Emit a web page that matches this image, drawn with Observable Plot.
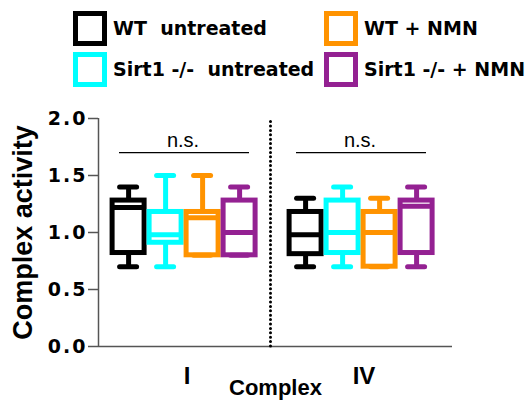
<!DOCTYPE html>
<html><head><meta charset="utf-8">
<script src="https://cdn.jsdelivr.net/npm/d3@7"></script>
<script src="https://cdn.jsdelivr.net/npm/@observablehq/plot@0.6"></script>
<style>
body{margin:0;background:#fff;width:527px;height:400px;overflow:hidden}
#chart svg{display:block}
.legend text{font-family:"DejaVu Sans",sans-serif;font-weight:bold;font-size:19px;white-space:pre}
[aria-label="y-axis tick label"] text{letter-spacing:2px}
[aria-label="y-axis tick"] path{stroke:#555;stroke-width:1.5}
[aria-label="fx-axis label"] text{font-size:22px}
</style></head><body><div id="chart"></div>
<script>
const complexes = ["I", "IV"];
const groups = ["WT  untreated", "Sirt1 -/-  untreated", "WT + NMN", "Sirt1 -/- + NMN"];
const groupColors = ["#000000", "#00ffff", "#ff9300", "#942192"];

// Complex I (per group, in groups order)
const minI = [0.70, 0.70, 0.80, 0.80];
const q1I  = [0.82, 0.91, 0.80, 0.80];
const medI = [1.22, 0.98, 1.13, 1.00];
const q3I  = [1.28, 1.18, 1.18, 1.28];
const maxI = [1.40, 1.50, 1.50, 1.40];
// Complex IV
const minIV = [0.70, 0.70, 0.70, 0.70];
const q1IV  = [0.81, 0.82, 0.70, 0.82];
const medIV = [0.98, 1.00, 1.00, 1.23];
const q3IV  = [1.18, 1.28, 1.18, 1.28];
const maxIV = [1.30, 1.40, 1.30, 1.40];

const yTicks = [0, 0.5, 1.0, 1.5, 2.0];
const nsLabel = "n.s.";
const nsLevel = 1.7;
const yLabel = "Complex activity";
const xLabel = "Complex";

const series = {
  I: {min: minI, q1: q1I, med: medI, q3: q3I, max: maxI},
  IV: {min: minIV, q1: q1IV, med: medIV, q3: q3IV, max: maxIV}
};
const stats = [];
complexes.forEach(c => groups.forEach((g, i) => {
  const s = series[c];
  stats.push({complex: c, group: g, min: s.min[i], q1: s.q1[i], med: s.med[i], q3: s.q3[i], max: s.max[i]});
}));

// legend
const legend = d3.create("svg").attr("class", "legend").attr("width", 527).attr("height", 95);
const colX = [73, 324], rowY = [11, 52];
groups.forEach((g, i) => {
  const lx = colX[Math.floor(i / 2)], ly = rowY[i % 2];
  legend.append("rect").attr("x", lx + 2.5).attr("y", ly + 2.5).attr("width", 29).attr("height", 30)
    .attr("fill", "none").attr("stroke", groupColors[i]).attr("stroke-width", 5);
  legend.append("text").attr("x", lx + 40).attr("y", ly + 24).text(g);
});
document.getElementById("chart").append(legend.node());

const step = 37, facetW = 177, pOuter = (facetW / step - 4) / 2, align = 0.4;
const firstCenter = (facetW - 4 * step) * align + step / 2;

const plot = Plot.plot({
  width: 527, height: 305,
  marginLeft: 98, marginRight: 75, marginTop: 23, marginBottom: 54,
  fx: {domain: complexes, padding: 0, round: false},
  x: {domain: groups, paddingInner: 0, paddingOuter: pOuter, align, round: false, axis: null},
  y: {domain: [0, 2]},
  color: {domain: groups, range: groupColors},
  style: {background: "white", overflow: "visible"},
  marks: [
    Plot.ruleY([0], {stroke: "#555", strokeWidth: 1.5}),
    Plot.ruleX([groups[0]], {x: d => d, fx: () => complexes[0], y1: () => 0, y2: () => 2, dx: -firstCenter, stroke: "#555", strokeWidth: 1.5}),
    Plot.ruleX([groups[0]], {x: d => d, fx: () => complexes[1], y1: () => 0, y2: () => 2, dx: -firstCenter - 5, stroke: "black", strokeWidth: 3, strokeDasharray: "0,4.4", strokeLinecap: "round"}),
    Plot.ruleX(stats, {fx: "complex", x: "group", y1: "min", y2: "max", stroke: "group", strokeWidth: 5}),
    Plot.barY(stats, {fx: "complex", x: "group", y1: "q1", y2: "q3", fill: "white", stroke: "group", strokeWidth: 5, insetLeft: 2.5, insetRight: 2.5}),
    Plot.tickY(stats, {fx: "complex", x: "group", y: "med", stroke: "group", strokeWidth: 5, insetLeft: 2.5, insetRight: 2.5}),
    Plot.tickY(stats, {fx: "complex", x: "group", y: "min", stroke: "group", strokeWidth: 5, strokeLinecap: "round", insetLeft: 10, insetRight: 10}),
    Plot.tickY(stats, {fx: "complex", x: "group", y: "max", stroke: "group", strokeWidth: 5, strokeLinecap: "round", insetLeft: 10, insetRight: 10}),
    Plot.ruleY([nsLevel], {insetLeft: 21, insetRight: 26, stroke: "black", strokeWidth: 1.2}),
    Plot.text([nsLabel], {y: () => nsLevel, text: d => d, dy: -6, dx: -4, lineAnchor: "bottom", fontSize: 20, fontFamily: "Liberation Sans, Arial, sans-serif", fill: "black"}),
    Plot.text([yLabel], {fx: () => complexes[0], frameAnchor: "left", text: d => d, rotate: -90, dx: -67, textAnchor: "middle", lineAnchor: "bottom", fontSize: 27, fontWeight: "bold", fontFamily: "Liberation Sans, Arial, sans-serif", fill: "black"}),
    Plot.axisY(yTicks, {tickFormat: d => d.toFixed(1), tickSize: 10, tickPadding: 1, fontSize: 19, fontWeight: "bold", fontFamily: "DejaVu Sans, sans-serif", label: null}),
    Plot.axisFx({anchor: "bottom", tickSize: 0, tickPadding: 20, fontSize: 24, fontWeight: "bold", fontFamily: "Liberation Sans, Arial, sans-serif", label: xLabel, labelAnchor: "center", labelOffset: 48})
  ]
});
document.getElementById("chart").append(plot);
</script></body></html>
